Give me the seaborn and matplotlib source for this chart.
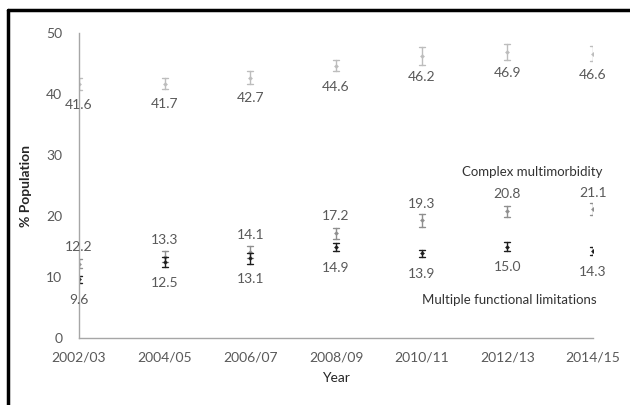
import matplotlib
matplotlib.use("Agg")
import matplotlib.pyplot as plt
import pandas as pd
import seaborn as sns
from matplotlib.lines import Line2D

years = ["2002/03", "2004/05", "2006/07", "2008/09", "2010/11", "2012/13", "2014/15"]

multimorbidity = [41.6, 41.7, 42.7, 44.6, 46.2, 46.9, 46.6]
multimorbidity_ci = [1.0, 0.9, 1.1, 0.9, 1.5, 1.3, 1.2]

complex_mm = [12.2, 13.3, 14.1, 17.2, 19.3, 20.8, 21.1]
complex_mm_ci = [0.8, 0.9, 1.0, 0.9, 1.1, 0.9, 1.0]

functional = [9.6, 12.5, 13.1, 14.9, 13.9, 15.0, 14.3]
functional_ci = [0.5, 0.8, 0.9, 0.7, 0.6, 0.8, 0.7]

series = [
    ("Multimorbidity", multimorbidity, multimorbidity_ci, "#bdbdbd", -15),
    ("Complex multimorbidity", complex_mm, complex_mm_ci, "#8f8f8f", 12),
    ("Multiple functional limitations", functional, functional_ci, "#1e1e1e", -15),
]

# long table: each point as (low, value, high) so median = value, min/max = CI
rows = []
for name, vals, cis, _, _ in series:
    for yr, v, c in zip(years, vals, cis):
        for p in (v - c, v, v + c):
            rows.append({"Year": yr, "value": p, "series": name})
df = pd.DataFrame(rows)

sns.set_style("white")
plt.rcParams["font.family"] = ["Lato", "DejaVu Sans"]

fig = plt.figure(figsize=(6.3, 4.05), dpi=100)
ax = fig.add_axes([0.1254, 0.1654, 0.8159, 0.7531])

for name, vals, cis, col, off in series:
    sns.pointplot(
        data=df[df["series"] == name],
        x="Year",
        y="value",
        order=years,
        estimator="median",
        errorbar=lambda x: (x.min(), x.max()),
        linestyle="none",
        color=col,
        markers="D",
        markersize=2.2,
        markeredgewidth=0.2,
        capsize=0.07,
        err_kws={"linewidth": 1.0},
        ax=ax,
    )
    for i, v in enumerate(vals):
        ax.annotate(f"{v:.1f}", (i, v), xytext=(0, off), textcoords="offset points",
                    ha="center", va="center", fontsize=10, color="#595959")

for art in ax.lines + ax.collections:
    art.set_clip_on(True)

ax.text(5.29, 27.2, "Complex multimorbidity", ha="center", va="center",
        fontsize=9.5, color="#333333")
ax.text(5.02, 6.2, "Multiple functional limitations", ha="center", va="center",
        fontsize=9.5, color="#333333")

ax.set_xlim(0, 6)
ax.set_ylim(0, 50)
ax.set_yticks([0, 10, 20, 30, 40, 50])
for s in ["top", "right"]:
    ax.spines[s].set_visible(False)
for s in ["left", "bottom"]:
    ax.spines[s].set_color("#a6a6a6")
    ax.spines[s].set_linewidth(1)
ax.tick_params(axis="both", direction="in", length=4, color="#a6a6a6",
               labelsize=10, labelcolor="#595959")
ax.tick_params(axis="y", pad=12)
ax.tick_params(axis="x", pad=10)
ax.set_xlabel("Year", fontsize=10, color="#262626", labelpad=6)
ax.set_ylabel("% Population", fontsize=10, color="#262626", fontweight="bold", labelpad=10)

# frame of the original figure
fig.add_artist(Line2D([8 / 630, 1], [395 / 405, 395 / 405], color="black", lw=2.5,
                      transform=fig.transFigure))
fig.add_artist(Line2D([8 / 630, 8 / 630], [0, 395 / 405], color="black", lw=2.5,
                      transform=fig.transFigure))

fig.savefig("out.png", dpi=100)
